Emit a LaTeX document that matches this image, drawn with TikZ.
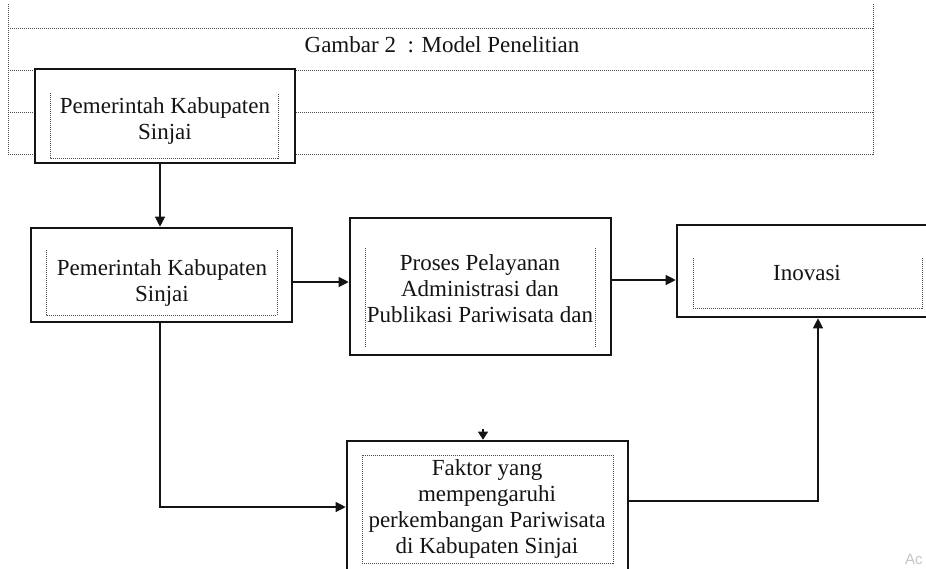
\documentclass[tikz,border=0pt]{standalone}
\usepackage{fontspec}
\setmainfont{Liberation Serif}
\newfontfamily\wmfont{Liberation Sans}
\usetikzlibrary{arrows.meta}
\definecolor{ink}{HTML}{141414}
\definecolor{dotc}{HTML}{4A4A4A}
\begin{document}
\begin{tikzpicture}[x=1pt,y=-1pt,
  outerbox/.style={draw=ink, line width=2.6pt, fill=white, inner sep=0pt},
  innerdot/.style={draw=dotc, line width=0.9pt, dash pattern=on 1pt off 1pt},
  tabline/.style={draw=dotc, line width=1pt, dash pattern=on 1pt off 1pt},
  conn/.style={draw=ink, line width=1.2pt},
  arr/.style={conn, -{Triangle[length=10pt,width=10pt]}},
  txt/.style={text=ink, align=center, font=\fontsize{23}{26}\selectfont, inner sep=0pt}]
\clip (0,0) rectangle (926,568);
\fill[white] (0,0) rectangle (926,568);
% table lines
\draw[tabline] (8,4) -- (8,155);
\draw[tabline] (873,4) -- (873,155);
\foreach \yy in {28,70,112,154} \draw[tabline] (8,\yy) -- (873,\yy);
\node[txt] (title) at (442,45) {Gambar 2\ \ : Model Penelitian};
% boxes
\node[outerbox, minimum width=260pt, minimum height=94pt] (b1) at (165,116) {};
\node[outerbox, minimum width=261pt, minimum height=94pt] (b2) at (161.5,275) {};
\node[outerbox, minimum width=261pt, minimum height=137pt] (b3) at (480.5,286.5) {};
\node[outerbox, minimum width=263pt, minimum height=92pt] (b4) at (808.5,271) {};
\node[outerbox, minimum width=281pt, minimum height=149pt] (b5) at (487.5,515.5) {};
% inner dotted frames
\draw[innerdot] (50,93) -- (50,158) -- (278,158) -- (278,93);
\draw[innerdot] (46,250) -- (46,315) -- (277,315) -- (277,250);
\draw[innerdot] (365,248) -- (365,347);
\draw[innerdot] (595,248) -- (595,347);
\draw[innerdot] (693,258) -- (693,308) -- (922,308) -- (922,258);
\draw[innerdot] (362,455) rectangle (613,563);
% texts
\node[txt] (t1) at (165,121) {Pemerintah Kabupaten\\Sinjai};
\node[txt] (t2) at (162,283) {Pemerintah Kabupaten\\Sinjai};
\node[txt] (t3) at (480,289) {Proses Pelayanan\\Administrasi dan\\Publikasi Pariwisata dan};
\node[txt] (t4) at (807,273) {Inovasi};
\node[txt] (t5) at (487,509) {Faktor yang\\mempengaruhi\\perkembangan Pariwisata\\di Kabupaten Sinjai};
% connectors
\coordinate (p1) at (160,0);
\coordinate (y23) at (0,282);
\coordinate (y34) at (0,280);
\coordinate (y25) at (0,507);
\coordinate (y54) at (0,501);
\coordinate (x54) at (818,0);
\coordinate (tip) at (483,429);
\draw[arr] (b1.south -| p1) -- (b2.north -| p1);
\draw[arr] (b2.east |- y23) -- (b3.west |- y23);
\draw[arr] (b3.east |- y34) -- (b4.west |- y34);
\draw[arr] (b2.south -| p1) |- (b5.west |- y25);
\draw[arr] (b5.east |- y54) -| (b4.south -| x54);
\draw[conn, -{Triangle[length=8pt,width=10pt]}] (tip) -- (b5.north -| tip);
% watermark fragment
\node[anchor=base west, text=gray!45, font=\wmfont\fontsize{15}{15}\selectfont, inner sep=0pt] (wm) at (905,564) {Ac};
\end{tikzpicture}
\end{document}
